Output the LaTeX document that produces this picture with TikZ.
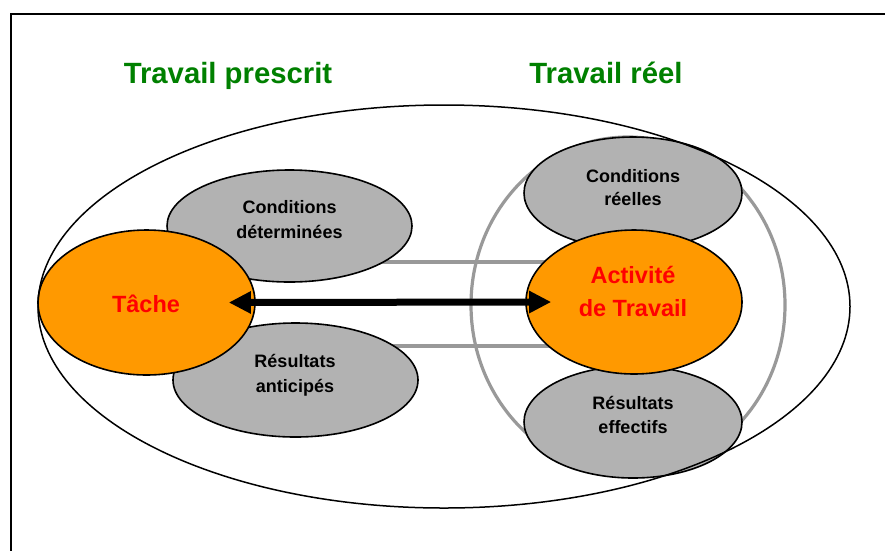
\documentclass[tikz,border=0pt]{standalone}
\usepackage{fontspec}
\setmainfont{Liberation Sans}
\usetikzlibrary{shapes.geometric,arrows.meta,calc}
\definecolor{orangeT}{HTML}{FF9900}
\definecolor{greyfill}{HTML}{B2B2B2}
\definecolor{greyline}{HTML}{999999}
\definecolor{titlegreen}{HTML}{008000}
\definecolor{redtext}{HTML}{FF0000}
\begin{document}
\begin{tikzpicture}[x=1pt,y=-1pt,
  oval/.style={ellipse,draw=black,line width=1.6pt,inner sep=0pt},
  greyoval/.style={oval,fill=greyfill},
  orangeoval/.style={oval,fill=orangeT},
  lbl/.style={anchor=base,inner sep=0pt,font=\fontsize{18}{20}\selectfont\bfseries,text=black},
  redlbl/.style={anchor=base,inner sep=0pt,font=\fontsize{23.5}{26}\selectfont\bfseries,text=redtext},
  ttl/.style={anchor=base,inner sep=0pt,font=\fontsize{29.3}{32}\selectfont\bfseries,text=titlegreen},
  greyconn/.style={draw=greyline,line width=3.2pt},
  bigarrow/.style={line width=7pt,{Triangle[length=22pt,width=21pt]}-{Triangle[length=22pt,width=21pt]}}
]
\useasboundingbox (0,0) rectangle (885,550);
\fill[white] (0,0) rectangle (885,550);
% frame
\draw[line width=2.2pt] (891,14) -- (11,14) -- (11,556);
% titles
\node[ttl] (tp) at (228,83) {Travail prescrit};
\node[ttl] (tr) at (606,83) {Travail réel};
% real-work circle
\node[ellipse,draw=greyline,line width=3.2pt,minimum width=314pt,minimum height=336pt,inner sep=0pt] (reel) at (628,305) {};
% grey connecting lines (below the ovals)
\coordinate (c1a) at (380,262);
\coordinate (c1b) at (552,262);
\coordinate (c2a) at (385,346);
\coordinate (c2b) at (554,346);
\draw[greyconn] (c1a) -- (c1b);
\draw[greyconn] (c2a) -- (c2b);
% left ovals
\node[greyoval,minimum width=245pt,minimum height=112pt] (cd) at (289.5,226) {};
\node[greyoval,minimum width=245pt,minimum height=114pt] (ra) at (295.5,380) {};
\node[orangeoval,minimum width=217pt,minimum height=145pt] (tache) at (146.5,302.5) {};
% right ovals
\node[greyoval,minimum width=218pt,minimum height=112pt] (cr) at (633,193) {};
\node[greyoval,minimum width=218pt,minimum height=112pt] (re) at (633,422) {};
\node[orangeoval,minimum width=216pt,minimum height=144pt] (act) at (634,302) {};
% big outer ellipse
\node[ellipse,draw=black,line width=1.5pt,minimum width=812pt,minimum height=403pt,inner sep=0pt] (monde) at (444,306.5) {};
% texts
\node[lbl] (cd1) at (289.5,213) {Conditions};
\node[lbl] (cd2) at (289.5,238) {déterminées};
\node[lbl] (ra1) at (295,367) {Résultats};
\node[lbl] (ra2) at (295,392) {anticipés};
\node[lbl] (cr1) at (633,182) {Conditions};
\node[lbl] (cr2) at (633,205) {réelles};
\node[lbl] (re1) at (633,409) {Résultats};
\node[lbl] (re2) at (633,433) {effectifs};
\node[redlbl] (t1) at (146,312) {Tâche};
\node[redlbl] (a1) at (633,283) {Activité};
\node[redlbl] (a2) at (633,316) {de Travail};
% arrow
\draw[bigarrow] ([xshift=-27pt]tache.east) -- ([xshift=26pt]act.west);
\end{tikzpicture}
\end{document}
